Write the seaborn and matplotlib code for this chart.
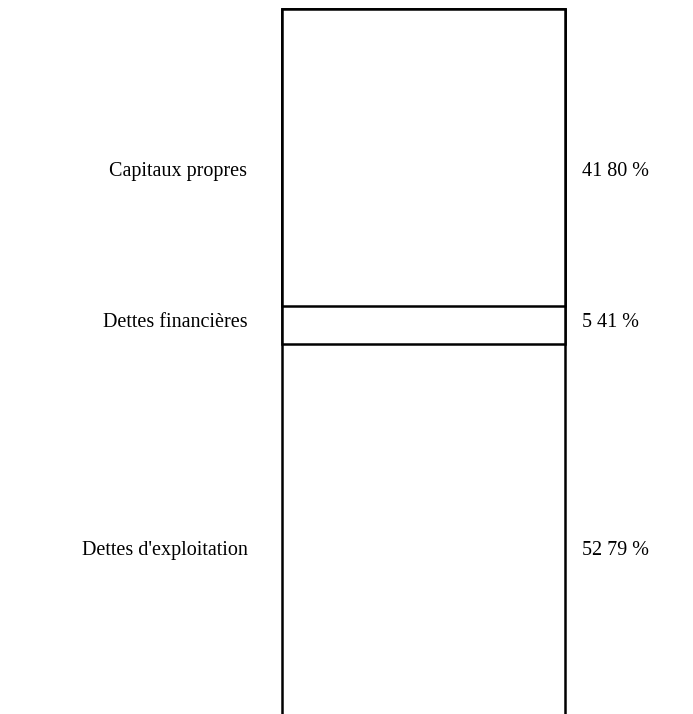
import matplotlib
matplotlib.use("Agg")
import numpy as np
import pandas as pd
import matplotlib.pyplot as plt
import seaborn as sns

# structure du passif (en % du total)
postes = ["Capitaux propres", "Dettes financières", "Dettes d'exploitation"]
parts = [41.80, 5.41, 52.79]
etiquettes = ["41 80 %", "5 41 %", "52 79 %"]

# hauteur des libellés (en % depuis le haut), pas forcément au milieu du bloc
pos_libelles = [22.9, 44.1, 76.3]

sns.set_style("white")
plt.rcParams["font.family"] = ["Liberation Serif", "DejaVu Serif"]

fig = plt.figure(figsize=(6.93, 7.14), dpi=100)
ax = fig.add_axes([0, 0, 1, 1])

# barres cumulées, de la plus longue à la plus courte, dessinées l'une sur l'autre
cumul = np.cumsum(parts)
for i in range(len(parts) - 1, -1, -1):
    df = pd.DataFrame({"x": ["passif"], "y": [cumul[i]]})
    sns.barplot(data=df, x="x", y="y", ax=ax, color="white",
                edgecolor="black", linewidth=1.8, width=0.8, zorder=2 + (len(parts) - i))

ax.set_xlim(-1.197, 0.762)
ax.set_ylim(99.3, -1.27)
ax.axis("off")

for nom, lab, yp in zip(postes, etiquettes, pos_libelles):
    ax.text(0.357, yp, nom, transform=ax.get_yaxis_transform(), ha="right",
            va="center", fontsize=14.5, color="black")
    ax.text(0.840, yp, lab, transform=ax.get_yaxis_transform(), ha="left",
            va="center", fontsize=14.5, color="black")

fig.savefig("out.png", dpi=100, facecolor="white")
